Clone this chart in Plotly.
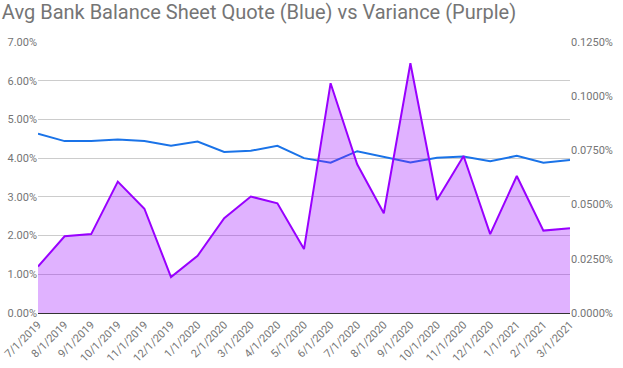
import plotly.graph_objects as go

dates = ["7/1/2019", "8/1/2019", "9/1/2019", "10/1/2019", "11/1/2019", "12/1/2019",
         "1/1/2020", "2/1/2020", "3/1/2020", "4/1/2020", "5/1/2020", "6/1/2020",
         "7/1/2020", "8/1/2020", "9/1/2020", "10/1/2020", "11/1/2020", "12/1/2020",
         "1/1/2021", "2/1/2021", "3/1/2021"]

# Average bank balance sheet quote, percent (left axis)
avg_quote = [4.63, 4.44, 4.44, 4.48, 4.44, 4.32, 4.43, 4.16, 4.19, 4.32, 4.00, 3.88,
             4.18, 4.04, 3.89, 4.01, 4.04, 3.92, 4.06, 3.88, 3.95]

# Variance, percent (right axis)
variance = [0.0214, 0.0354, 0.0364, 0.0606, 0.0481, 0.0166, 0.0264, 0.0437, 0.0537,
            0.0506, 0.0295, 0.1060, 0.0686, 0.0460, 0.1152, 0.0521, 0.0724, 0.0364,
            0.0632, 0.0380, 0.0391]

left_ticks = [0, 1, 2, 3, 4, 5, 6, 7]
left_labels = ["0.00%", "1.00%", "2.00%", "3.00%", "4.00%", "5.00%", "6.00%", "7.00%"]
right_ticks = [0, 0.025, 0.05, 0.075, 0.1, 0.125]
right_labels = ["0.0000%", "0.0250%", "0.0500%", "0.0750%", "0.1000%", "0.1250%"]

fig = go.Figure()
fig.add_trace(go.Scatter(x=dates, y=avg_quote, mode="lines", yaxis="y",
                         line=dict(color="#1a73e8", width=2), showlegend=False))
fig.add_trace(go.Scatter(x=dates, y=variance, mode="lines", yaxis="y2",
                         fill="tozeroy", fillcolor="rgba(153,0,255,0.3)",
                         line=dict(color="#9900ff", width=2), showlegend=False))

tick_font = dict(family="Roboto", size=11, color="#757575")
fig.update_layout(
    width=623, height=368,
    margin=dict(l=38, r=53, t=42, b=55),
    paper_bgcolor="white", plot_bgcolor="white",
    title=dict(text="Avg Bank Balance Sheet Quote (Blue) vs Variance (Purple)",
               x=0.003, xanchor="left", y=0.968, yanchor="middle",
               font=dict(family="Roboto", size=20, color="#757575")),
    xaxis=dict(type="category", range=[0, len(dates) - 1], tickangle=-45,
               tickfont=tick_font, showgrid=False, showline=True,
               linecolor="#333333", linewidth=1, ticks="", automargin=False),
    yaxis=dict(range=[0, 7], tickvals=left_ticks, ticktext=left_labels,
               tickfont=tick_font, showgrid=True, gridcolor="#cccccc",
               zeroline=False, ticks="", automargin=False),
    yaxis2=dict(range=[0, 0.125], tickvals=right_ticks, ticktext=right_labels,
                tickfont=tick_font, overlaying="y", side="right", showgrid=False,
                zeroline=False, ticks="", automargin=False),
)

fig.write_html("out.html", config={"displayModeBar": False},
               post_script="document.body.style.margin='0';document.body.style.overflow='hidden';")
